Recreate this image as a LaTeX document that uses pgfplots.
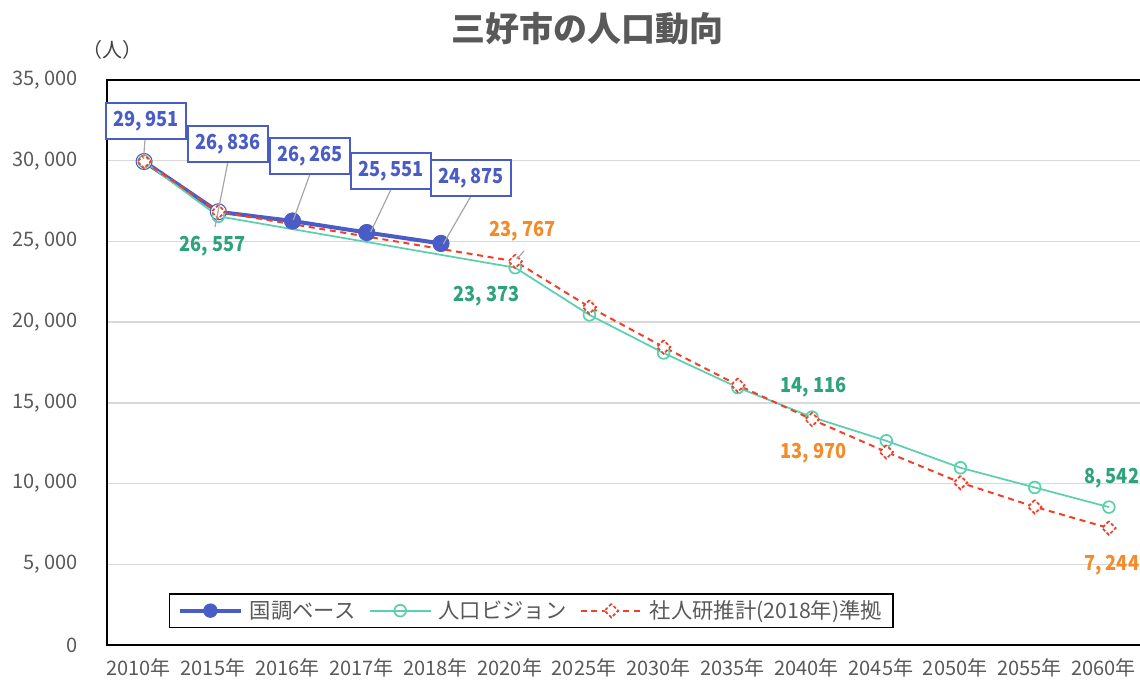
\documentclass[border=0pt]{standalone}
\usepackage{pgfplots}
\pgfplotsset{compat=1.18}
\usepackage{fontspec}
\setmainfont{Noto Sans CJK JP}
\newfontfamily\condf[FakeStretch=0.88]{Noto Sans CJK JP}
\definecolor{kblue}{HTML}{4A5CC5}
\definecolor{kteal}{HTML}{5CCFAE}
\definecolor{kred}{HTML}{F0402A}
\definecolor{ltxt}{HTML}{2EA27C}
\definecolor{otxt}{HTML}{F58A28}
\definecolor{gtxt}{HTML}{595959}
\definecolor{dtxt}{HTML}{404040}
\definecolor{gridc}{HTML}{D9D9D9}
\definecolor{leadc}{HTML}{A6A6A6}
\begin{document}
\begin{tikzpicture}
\useasboundingbox (-80.25bp,-29.25bp) rectangle (774.75bp,483.75bp);
\begin{axis}[
  at={(0,0)}, anchor=south west,
  scale only axis, width=779.25bp, height=423.75bp,
  xmin=-0.5, xmax=13.5, ymin=0, ymax=35000,
  xtick={0,...,13},
  xticklabels={2010年,2015年,2016年,2017年,2018年,2020年,2025年,2030年,2035年,2040年,2045年,2050年,2055年,2060年},
  ytick={0,5000,...,35000},
  ymajorgrids, grid style={gridc, line width=1.1bp},
  axis line style={black, line width=1.2bp},
  major tick length=0pt,
  ticklabel style={font=\fontsize{15bp}{18bp}\selectfont, text=gtxt},
  /pgf/number format/assume math mode=true,
  /pgf/number format/1000 sep={,\hspace{3.5bp}},
  scaled y ticks=false,
  yticklabel style={anchor=east, inner sep=0pt, xshift=-21.75bp},
  xticklabel style={anchor=center, inner sep=0pt, yshift=-17.25bp, xshift=-4bp},
  clip=false,
  legend columns=3,
  legend style={at={(0.0597,0.030)}, anchor=south west, draw=black, line width=1.1bp,
    font=\fontsize{16bp}{19bp}\selectfont, text=gtxt, inner xsep=6bp, inner ysep=3bp,
    /tikz/every odd column/.append style={column sep=3bp},
    /tikz/every even column/.append style={column sep=8bp}},
  legend image code/.code={\draw[mark repeat=2,mark phase=2,#1] plot coordinates {(0bp,0bp)(23bp,0bp)(46bp,0bp)};},
]
% legend image for the first series
\addlegendimage{kblue, line width=3bp, mark=*, mark size=5bp, mark options={fill=kblue, line width=0.8bp}}
\addlegendentry{国調ベース}
% 国調ベース line (hollow markers for 2010/2015)
\addplot[kblue, line width=3bp, mark=*, mark size=6bp, mark options={fill=white, line width=0.8bp}, forget plot]
  coordinates {(0,29951)(1,26836)(2,26265)(3,25551)(4,24875)};
% 人口ビジョン
\addplot[kteal, line width=1.3bp, mark=o, mark size=4.4bp, mark options={fill=white, solid, line width=1.3bp}]
  coordinates {(0,29951)(1,26557)(5,23373)(6,20450)(7,18090)(8,15950)(9,14116)(10,12650)(11,10980)(12,9760)(13,8542)};
\addlegendentry{人口ビジョン}
% 社人研推計
\addplot[kred, line width=1.5bp, dash pattern=on 4.5bp off 3.5bp, mark=square*, mark size=3.6bp,
   mark options={fill=white, rotate=45, line width=1.3bp, dash pattern=on 2.5bp off 1.5bp}]
  coordinates {(0,29951)(1,26836)(5,23767)(6,20940)(7,18460)(8,16100)(9,13970)(10,11960)(11,10060)(12,8560)(13,7244)};
\addlegendentry{社人研推計(2018年)準拠}
% filled markers 2016-2018
\addplot[only marks, kblue, mark=*, mark size=6bp, mark options={fill=kblue}, forget plot]
  coordinates {(2,26265)(3,25551)(4,24875)};
\end{axis}
\begin{scope}[shift={(-80.25bp,483.75bp)}, x=0.75bp, y=-0.75bp]
  \node[font=\bfseries\fontsize{25.5bp}{30bp}\selectfont, text=gtxt] at (587,29) {三好市の人口動向};
  \node[font=\fontsize{15bp}{18bp}\selectfont, text=dtxt] at (113,50) {（人）};
  % leaders
  \begin{scope}[leadc, line width=0.9bp]
    \draw (145,140) -- (143.5,159);
    \draw (227.7,163) -- (215,227);
    \draw (310,174) -- (293.3,220);
    \draw (390.7,190) -- (370.7,232);
    \draw (470.7,196.5) -- (443.3,244);
    \draw (516.7,259) -- (524,251);
  \end{scope}
  \tikzset{bbox/.style={draw=kblue, line width=1.5bp, fill=white, text=kblue,
      font=\condf\bfseries\fontsize{15.5bp}{18bp}\selectfont,
      minimum width=60.5bp, minimum height=27bp, inner sep=0pt},
    tlab/.style={text=ltxt, font=\condf\bfseries\fontsize{15.5bp}{18bp}\selectfont, inner sep=0pt},
    olab/.style={text=otxt, font=\condf\bfseries\fontsize{15.5bp}{18bp}\selectfont, inner sep=0pt}}
  \node[bbox] at (146,121) {29, 951};
  \node[bbox] at (228,144.5) {26, 836};
  \node[bbox] at (310,156.5) {26, 265};
  \node[bbox] at (391,171.5) {25, 551};
  \node[bbox] at (471,178.5) {24, 875};
  \node[tlab] at (212.7,246) {26, 557};
  \node[tlab] at (486.7,296) {23, 373};
  \node[tlab] at (813.3,387.3) {14, 116};
  \node[tlab] at (1111.7,478) {8, 542};
  \node[olab] at (522.7,231.7) {23, 767};
  \node[olab] at (813.3,453.3) {13, 970};
  \node[olab] at (1111.7,565) {7, 244};
\end{scope}
\end{tikzpicture}
\end{document}
